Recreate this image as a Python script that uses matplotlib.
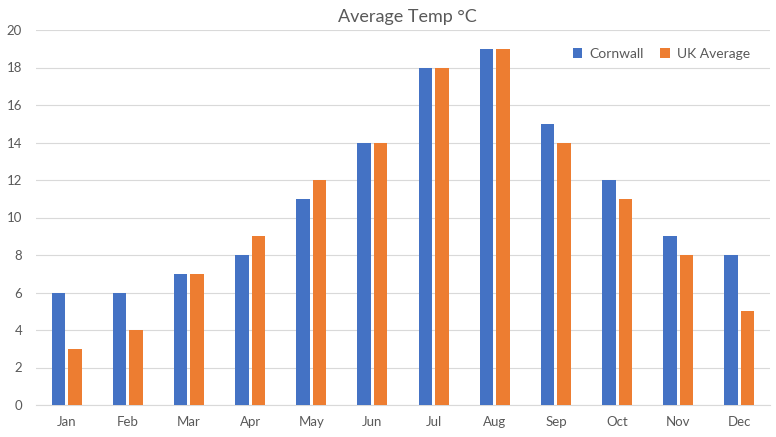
import matplotlib
matplotlib.use("Agg")
import matplotlib.pyplot as plt
import numpy as np

months = ["Jan", "Feb", "Mar", "Apr", "May", "Jun", "Jul", "Aug", "Sep", "Oct", "Nov", "Dec"]
cornwall = [6, 6, 7, 8, 11, 14, 18, 19, 15, 12, 9, 8]
uk_average = [3, 4, 7, 9, 12, 14, 18, 19, 14, 11, 8, 5]

plt.rcParams['font.family'] = ['Lato', 'DejaVu Sans']

fig = plt.figure(figsize=(7.76, 4.37), dpi=100)
ax = fig.add_axes([36 / 776, 1 - 405 / 437, (770 - 36) / 776, (405 - 30) / 437])

x = np.arange(len(months))
w = 0.22
ax.bar(x - 0.135, cornwall, w, color="#4472C4", label="Cornwall", zorder=3)
ax.bar(x + 0.135, uk_average, w, color="#ED7D31", label="UK Average", zorder=3)

ax.set_xlim(-0.5, len(months) - 0.5)
ax.set_ylim(0, 20)
ax.set_yticks(range(0, 21, 2))
ax.set_xticks(x)
ax.set_xticklabels(months)
ax.grid(axis="y", color="#D9D9D9", linewidth=0.8, zorder=0)
for s in ["top", "right", "left"]:
    ax.spines[s].set_visible(False)
ax.spines["bottom"].set_color("#D9D9D9")
ax.tick_params(axis="both", length=0, colors="#595959", labelsize=9.5)
ax.tick_params(axis="x", pad=8)
ax.tick_params(axis="y", pad=10)

fig.text(407 / 776, 1 - 17 / 437, "Average Temp °C", ha="center", va="center",
         fontsize=13, color="#595959")

ax.legend(loc="upper right", bbox_to_anchor=(0.99, 0.985), ncol=2, frameon=False,
          fontsize=10, handlelength=0.7, handleheight=0.7, handletextpad=0.5,
          columnspacing=1.2, labelcolor="#595959")

fig.savefig("out.png", dpi=100)
